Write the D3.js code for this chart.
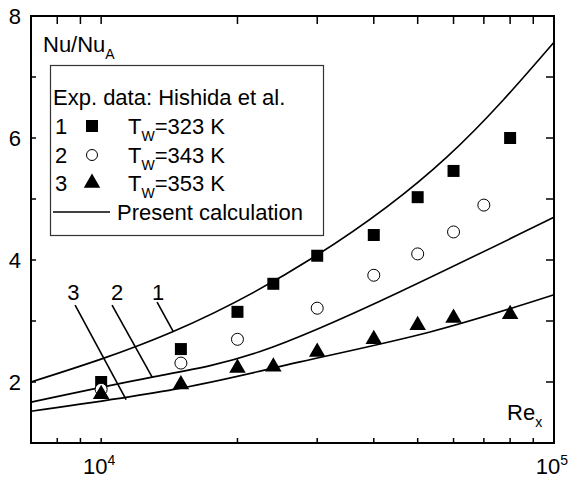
<!DOCTYPE html>
<html>
<head>
<meta charset="utf-8">
<script src="https://cdn.jsdelivr.net/npm/d3@7"></script>
<style>
body { margin: 0; background: #fff; }
text { font-family: "Liberation Sans", Arial, sans-serif; fill: #000; }
</style>
</head>
<body>
<svg width="568" height="478"></svg>
<script>
// experimental points (Hishida et al.)
var re1 = [10000, 15000, 20000, 24000, 30000, 40000, 50000, 60000, 80000];
var nu1 = [2.00, 2.54, 3.15, 3.61, 4.07, 4.41, 5.03, 5.46, 6.00];
var re2 = [10000, 15000, 20000, 30000, 40000, 50000, 60000, 70000];
var nu2 = [1.88, 2.31, 2.70, 3.21, 3.75, 4.10, 4.46, 4.90];
var re3 = [10000, 15000, 20000, 24000, 30000, 40000, 50000, 60000, 80000];
var nu3 = [1.80, 1.96, 2.23, 2.25, 2.49, 2.70, 2.93, 3.05, 3.11];

// present calculation curves
var calcRe1 = [7000, 14340, 29820, 58050, 100000];
var calcNu1 = [2.00, 2.82, 4.07, 5.69, 7.57];
var calcRe2 = [7000, 12960, 22440, 45710, 100000];
var calcNu2 = [1.67, 2.08, 2.50, 3.48, 4.70];
var calcRe3 = [7000, 15000, 27500, 53240, 100000];
var calcNu3 = [1.52, 1.90, 2.33, 2.82, 3.43];

var yLabels = [2, 4, 6, 8];
var yMinor = [3, 5, 7];
var xMajor = [10000];
var xMinor = [8000, 9000, 20000, 30000, 40000, 50000, 60000, 70000, 80000, 90000];

// curve labels: [text, label Re, label Nu, leader start Re, Nu, leader end Re, Nu]
var curveTags = [
  ["3", 8680, 3.48, 8760, 3.26, 11355, 1.71],
  ["2", 10850, 3.48, 10570, 3.26, 12960, 2.08],
  ["1", 13360, 3.48, 13290, 3.31, 14420, 2.83]
];

var svg = d3.select("svg");
var pL = 31, pR = 554, pT = 16, pB = 443;

var x = d3.scaleLog().domain([7000, 100000]).range([pL, pR]);
var y = d3.scaleLinear().domain([1, 8]).range([pB, pT]);

function zip(a, b) { return a.map(function(d, i) { return [d, b[i]]; }); }

var line = d3.line()
  .x(function(d) { return x(d[0]); })
  .y(function(d) { return y(d[1]); })
  .curve(d3.curveNatural);

var plot = svg.append("g");

[[calcRe1, calcNu1], [calcRe2, calcNu2], [calcRe3, calcNu3]].forEach(function(c) {
  plot.append("path")
    .attr("d", line(zip(c[0], c[1])))
    .attr("fill", "none")
    .attr("stroke", "#000")
    .attr("stroke-width", 1.6);
});

// leaders
curveTags.forEach(function(t) {
  plot.append("line")
    .attr("x1", x(t[3])).attr("y1", y(t[4]))
    .attr("x2", x(t[5])).attr("y2", y(t[6]))
    .attr("stroke", "#000").attr("stroke-width", 1.6);
  plot.append("text")
    .attr("x", x(t[1])).attr("y", y(t[2]) + 8)
    .attr("text-anchor", "middle")
    .style("font-size", "22px")
    .text(t[0]);
});

var sq = d3.symbol(d3.symbolSquare, 144);
var tri = d3.symbol(d3.symbolTriangle, 118);

plot.selectAll(".sq").data(zip(re1, nu1)).enter().append("path")
  .attr("d", sq)
  .attr("transform", function(d) { return "translate(" + x(d[0]) + "," + y(d[1]) + ")"; })
  .attr("fill", "#000");

plot.selectAll(".ci").data(zip(re2, nu2)).enter().append("circle")
  .attr("cx", function(d) { return x(d[0]); })
  .attr("cy", function(d) { return y(d[1]); })
  .attr("r", 6)
  .attr("fill", "#fff")
  .attr("stroke", "#000")
  .attr("stroke-width", 1);

plot.selectAll(".tr").data(zip(re3, nu3)).enter().append("path")
  .attr("d", tri)
  .attr("transform", function(d) { return "translate(" + x(d[0]) + "," + y(d[1]) + ")"; })
  .attr("fill", "#000");

// frame + ticks
var axes = svg.append("g").attr("stroke", "#000");
axes.append("rect")
  .attr("x", pL).attr("y", pT)
  .attr("width", pR - pL).attr("height", pB - pT)
  .attr("fill", "none").attr("stroke-width", 2);

yLabels.concat(yMinor).forEach(function(v) {
  axes.append("line").attr("x1", pL).attr("x2", pL + 5)
    .attr("y1", y(v)).attr("y2", y(v)).attr("stroke-width", 1.5);
  axes.append("line").attr("x1", pR).attr("x2", pR - 8)
    .attr("y1", y(v)).attr("y2", y(v)).attr("stroke-width", 1.5);
});
xMajor.concat(xMinor).forEach(function(v) {
  axes.append("line").attr("x1", x(v)).attr("x2", x(v))
    .attr("y1", pB).attr("y2", pB - 5).attr("stroke-width", 1.5);
  axes.append("line").attr("x1", x(v)).attr("x2", x(v))
    .attr("y1", pT).attr("y2", pT + 8).attr("stroke-width", 1.5);
});

svg.selectAll(".ylab").data(yLabels).enter().append("text")
  .attr("x", 21).attr("y", function(d) { return y(d) + 8; })
  .attr("text-anchor", "end")
  .style("font-size", "22px")
  .text(function(d) { return d; });

[[10000, "4"], [100000, "5"]].forEach(function(p) {
  var t = svg.append("text")
    .attr("x", x(p[0]) - 2).attr("y", 474)
    .attr("text-anchor", "middle")
    .style("font-size", "22px");
  t.append("tspan").text("10");
  t.append("tspan").attr("dy", -9).style("font-size", "14px").text(p[1]);
});

// axis titles
var yt = svg.append("text").attr("x", 43).attr("y", 52).style("font-size", "22px");
yt.append("tspan").text("Nu/Nu");
yt.append("tspan").attr("dy", 7).style("font-size", "14px").text("A");

var xt = svg.append("text").attr("x", 507).attr("y", 420).style("font-size", "22px");
xt.append("tspan").text("Re");
xt.append("tspan").attr("dy", 7).style("font-size", "14px").text("x");

// legend
var lg = svg.append("g");
lg.append("rect")
  .attr("x", 50.5).attr("y", 65.5).attr("width", 273).attr("height", 170)
  .attr("fill", "#fff").attr("stroke", "#333").attr("stroke-width", 1.2);

lg.append("text").attr("x", 53).attr("y", 105).style("font-size", "22px")
  .text("Exp. data: Hishida et al.");

var rows = [["1", "323"], ["2", "343"], ["3", "353"]];
var rowY = [126, 155, 183];
rows.forEach(function(r, i) {
  var cy = rowY[i];
  lg.append("text").attr("x", 55).attr("y", cy + 8).style("font-size", "22px").text(r[0]);
  var t = lg.append("text").attr("x", 128).attr("y", cy + 8).style("font-size", "22px");
  t.append("tspan").text("T");
  t.append("tspan").attr("dy", 7).style("font-size", "14px").text("W");
  t.append("tspan").attr("dy", -7).text("=" + r[1] + " K");
});
lg.append("path").attr("d", sq).attr("transform", "translate(92," + rowY[0] + ")").attr("fill", "#000");
lg.append("circle").attr("cx", 92).attr("cy", rowY[1]).attr("r", 5.5)
  .attr("fill", "#fff").attr("stroke", "#000").attr("stroke-width", 1);
lg.append("path").attr("d", tri).attr("transform", "translate(92," + rowY[2] + ")").attr("fill", "#000");

lg.append("line").attr("x1", 53).attr("x2", 110).attr("y1", 212).attr("y2", 212)
  .attr("stroke", "#000").attr("stroke-width", 1.6);
lg.append("text").attr("x", 117).attr("y", 220).style("font-size", "22px")
  .text("Present calculation");
</script>
</body>
</html>
